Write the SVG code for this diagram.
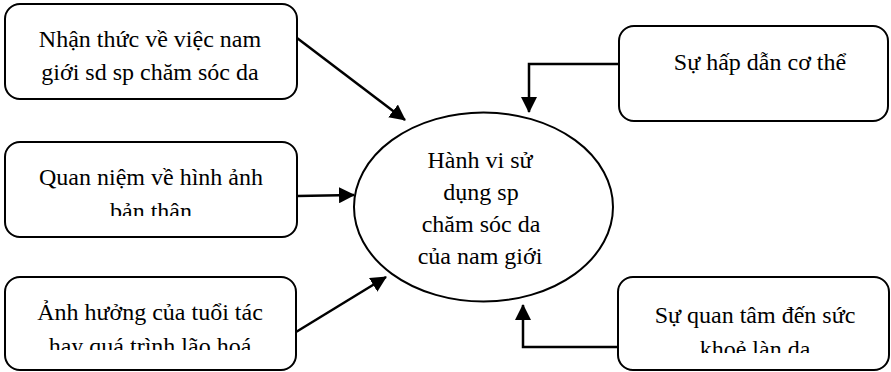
<svg xmlns="http://www.w3.org/2000/svg" width="891" height="372" viewBox="0 0 891 372">
<style>
.box{fill:#fff;stroke:#000;stroke-width:2}
.t{font-family:"Liberation Serif","Times New Roman",serif;font-size:24px;fill:#000;text-anchor:middle}
.c{fill:none;stroke:#000;stroke-width:2.5}
</style>
<defs>
<marker id="ah" viewBox="0 0 16 16" refX="15" refY="8" markerWidth="16" markerHeight="16" markerUnits="userSpaceOnUse" orient="auto">
<path d="M0,0 L16,8 L0,16 z" fill="#000"/>
</marker>
<clipPath id="cl2"><rect x="0" y="140" width="300" height="76"/></clipPath>
<clipPath id="cl3"><rect x="0" y="275" width="300" height="75"/></clipPath>
<clipPath id="cl5"><rect x="615" y="275" width="276" height="78"/></clipPath>
</defs>
<rect width="891" height="372" fill="#fff"/>
<g id="n1">
<rect class="box" x="5" y="4" width="292" height="95" rx="15"/>
<text class="t" x="150" y="47">Nhận thức về việc nam</text>
<text class="t" x="150" y="80">giới sd sp chăm sóc da</text>
</g>
<g id="n2">
<rect class="box" x="5" y="142" width="292" height="95" rx="15"/>
<g clip-path="url(#cl2)">
<text class="t" x="151" y="185">Quan niệm về hình ảnh</text>
<text class="t" x="151" y="219">bản thân</text>
</g>
</g>
<g id="n3">
<rect class="box" x="5" y="277" width="291" height="93" rx="15"/>
<g clip-path="url(#cl3)">
<text class="t" x="150" y="320">Ảnh hưởng của tuổi tác</text>
<text class="t" x="150" y="354">hay quá trình lão hoá</text>
</g>
</g>
<g id="center">
<ellipse cx="483.5" cy="207" rx="129.5" ry="94.5" fill="#fff" stroke="#000" stroke-width="2"/>
<text class="t" x="480" y="168">Hành vi sử</text>
<text class="t" x="481" y="200">dụng sp</text>
<text class="t" x="481" y="232">chăm sóc da</text>
<text class="t" x="480" y="264">của nam giới</text>
</g>
<g id="n4">
<rect class="box" x="619" y="26" width="269" height="95" rx="15"/>
<text class="t" x="760" y="70">Sự hấp dẫn cơ thể</text>
</g>
<g id="n5">
<rect class="box" x="618" y="277" width="271" height="93" rx="15"/>
<g clip-path="url(#cl5)">
<text class="t" x="755" y="323">Sự quan tâm đến sức</text>
<text class="t" x="755" y="357">khoẻ làn da</text>
</g>
</g>
<g id="connectors">
<path class="c" d="M297,38 L405,120" marker-end="url(#ah)"/>
<path class="c" d="M297,196 L354,195" marker-end="url(#ah)"/>
<path class="c" d="M296,332 L386,277" marker-end="url(#ah)"/>
<path class="c" d="M619,64 H529 V112" marker-end="url(#ah)"/>
<path class="c" d="M618,347 H523 V305" marker-end="url(#ah)"/>
</g>
</svg>
